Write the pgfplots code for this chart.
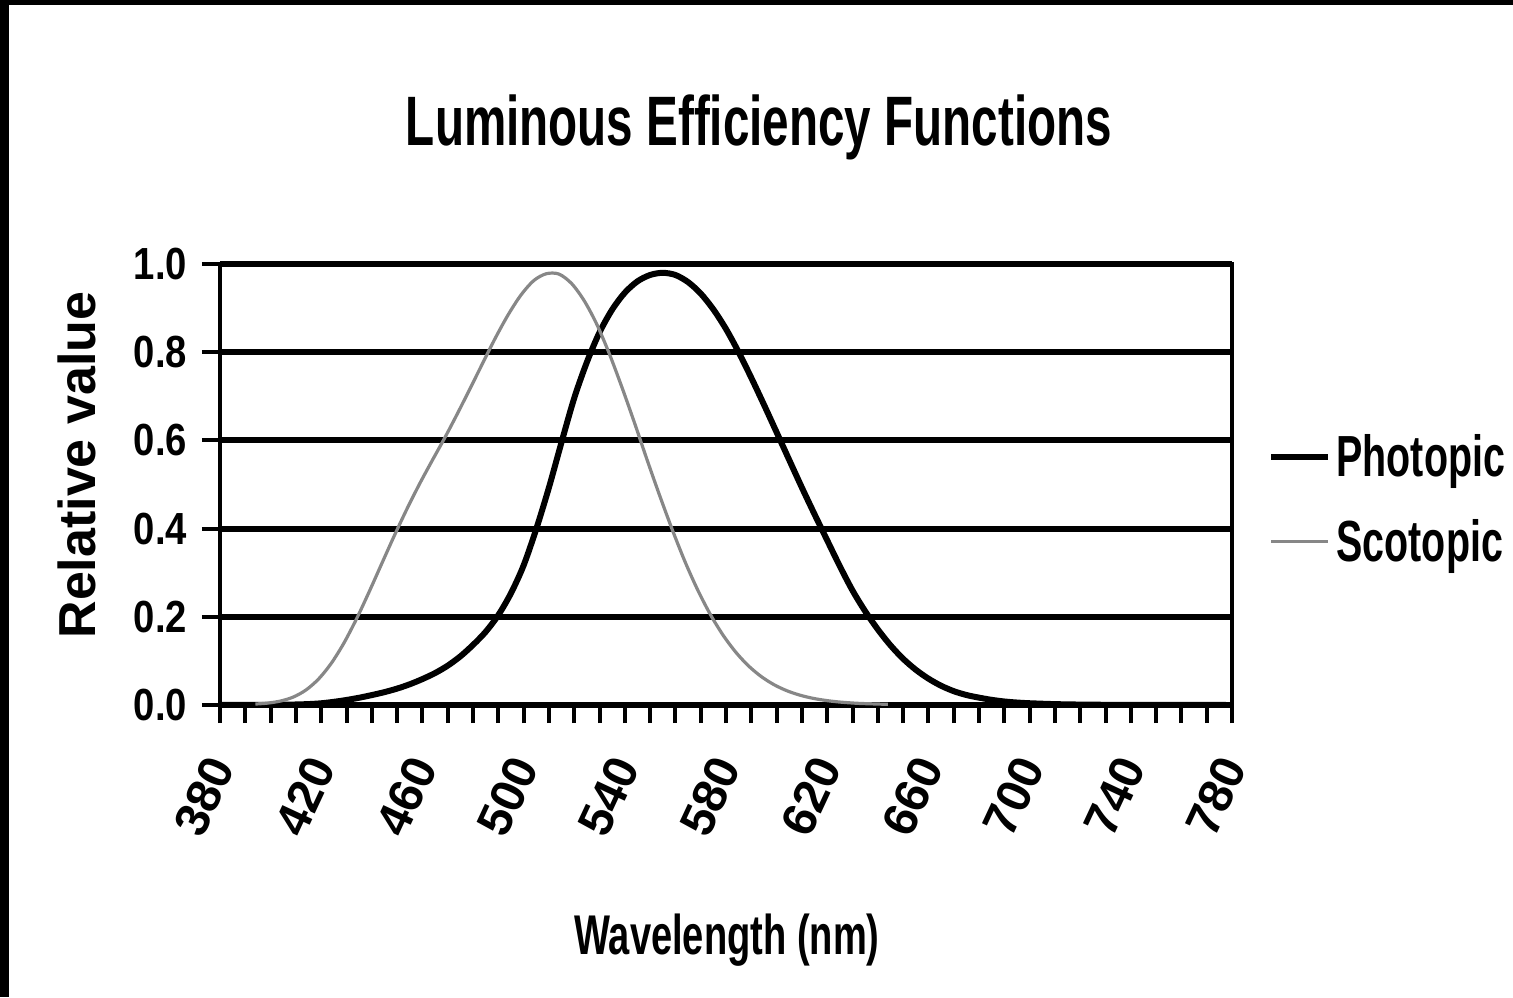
\documentclass[border=0pt]{standalone}
\usepackage{fontspec}
\setmainfont{Liberation Sans}
\newfontfamily\narrowfont{Liberation Sans}[FakeStretch=0.68]
\newfontfamily\tickfont{Liberation Sans}[FakeStretch=0.85]
\usepackage{pgfplots}
\pgfplotsset{compat=1.18}

\pgfplotstableread{
nm v
380 0.0000
385 0.0001
390 0.0001
395 0.0002
400 0.0004
405 0.0006
410 0.0012
415 0.0021
420 0.0039
425 0.0072
430 0.0114
435 0.0165
440 0.0225
445 0.0292
450 0.0372
455 0.0470
460 0.0588
465 0.0724
470 0.0892
475 0.1103
480 0.1362
485 0.1659
490 0.2039
495 0.2534
500 0.3165
505 0.3992
510 0.4929
515 0.5960
520 0.6958
525 0.7773
530 0.8448
535 0.8966
540 0.9349
545 0.9607
550 0.9751
555 0.9800
560 0.9751
565 0.9590
570 0.9330
575 0.8971
580 0.8526
585 0.8000
590 0.7419
595 0.6810
600 0.6184
605 0.5555
610 0.4929
615 0.4324
620 0.3734
625 0.3146
630 0.2597
635 0.2127
640 0.1715
645 0.1354
650 0.1049
655 0.0800
660 0.0598
665 0.0437
670 0.0314
675 0.0227
680 0.0167
685 0.0117
690 0.0080
695 0.0056
700 0.0040
710 0.0020
720 0.0010
730 0.0005
740 0.0002
760 0.0001
780 0.0000
}\photopic

\pgfplotstableread{
nm v
394 0.0022
399 0.0044
404 0.0091
409 0.0181
414 0.0341
419 0.0592
424 0.0947
429 0.1407
434 0.1958
439 0.2573
444 0.3215
449 0.3852
454 0.4459
459 0.5027
464 0.5557
469 0.6076
474 0.6625
479 0.7193
484 0.7771
489 0.8340
494 0.8859
499 0.9300
504 0.9624
509 0.9780
514 0.9771
519 0.9555
524 0.9163
529 0.8624
534 0.7948
539 0.7183
544 0.6370
549 0.5527
554 0.4714
559 0.3940
564 0.3222
569 0.2586
574 0.2034
579 0.1570
584 0.1188
589 0.0881
594 0.0642
599 0.0460
604 0.0325
609 0.0227
614 0.0156
619 0.0107
624 0.0072
629 0.0049
634 0.0033
644 0.0015
}\scotopic

\definecolor{scotgray}{RGB}{135,135,135}

\begin{document}
\begin{tikzpicture}
\useasboundingbox (0,0) rectangle (756.5pt,498.5pt);
\fill[black] (0,496pt) rectangle (756.5pt,498.5pt);
\fill[black] (0,0) rectangle (4.5pt,498.5pt);
\begin{axis}[
  at={(110pt,146pt)}, anchor=south west,
  scale only axis, width=506pt, height=220.5pt,
  xmin=380, xmax=780, ymin=0, ymax=1,
  xtick={380,420,...,780},
  minor xtick={390,400,...,780},
  ytick={0,0.2,...,1.0},
  xtick pos=bottom, ytick pos=left,
  tick align=outside,
  major tick length=9pt, minor tick length=9pt,
  every tick/.style={black, line width=2pt},
  ymajorgrids,
  grid style={black, line width=3pt},
  x axis line style={line width=3.5pt},
  y axis line style={line width=2.2pt},
  /pgf/number format/assume math mode=true,
  yticklabel style={font=\tickfont\bfseries\fontsize{22.5}{22.5}\selectfont, xshift=-4pt,
    /pgf/number format/.cd, fixed, fixed zerofill, precision=1},
  xticklabel style={font=\bfseries\fontsize{24}{24}\selectfont,
    xshift=2pt, yshift=-15.5pt, rotate=65, anchor=east,
    /pgf/number format/.cd, 1000 sep={}},
  title={Luminous Efficiency Functions},
  title style={at={(axis description cs:0.5326,1.283)}, anchor=center,
    font=\narrowfont\bfseries\fontsize{35}{35}\selectfont},
  xlabel={Wavelength (nm)},
  xlabel style={at={(axis description cs:0.501,-0.5329)}, anchor=center,
    font=\narrowfont\bfseries\fontsize{28}{28}\selectfont},
  ylabel={Relative value},
  ylabel style={at={(axis description cs:-0.1413,0.544)}, anchor=center,
    font=\bfseries\fontsize{26}{26}\selectfont},
  legend style={at={(axis description cs:1.0356,0.467)}, anchor=west,
    draw=none, fill=none, inner sep=0pt, row sep=20pt,
    font=\narrowfont\bfseries\fontsize{29}{29}\selectfont,
    nodes={inner xsep=2.5pt, inner ysep=0pt}},
  legend cell align=left,
  legend image code/.code={\draw[#1] (0pt,0pt) -- (28.5pt,0pt);},
]
\addplot[black, line width=3pt, smooth] table[x=nm, y=v] {\photopic};
\addlegendentry{Photopic}
\addplot[scotgray, line width=1.6pt, smooth] table[x=nm, y=v] {\scotopic};
\addlegendentry{Scotopic}
\end{axis}
\end{tikzpicture}
\end{document}
